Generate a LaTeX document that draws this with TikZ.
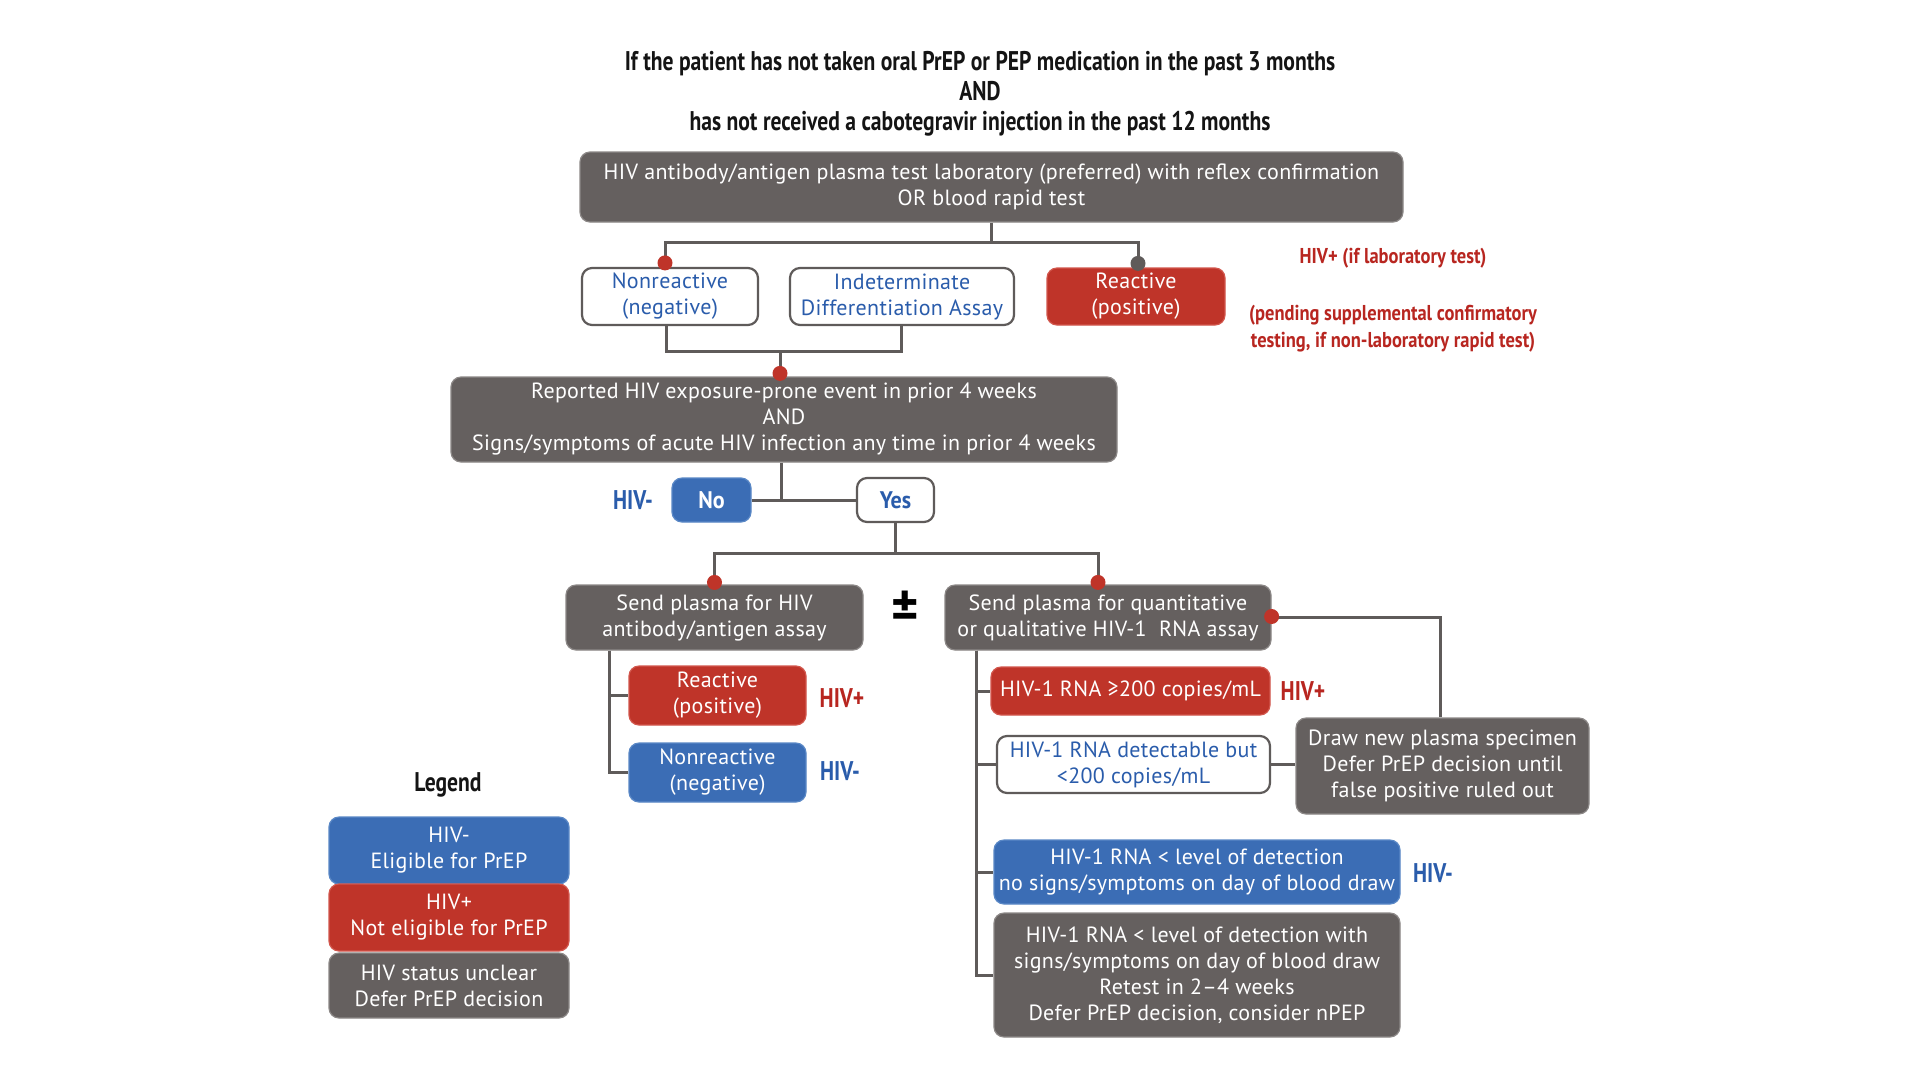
\documentclass[tikz,border=0pt]{standalone}
\usepackage{fontspec}
\setmainfont{PT Sans}[LetterSpace=1.5]
\newfontfamily\condf[FakeStretch=0.80]{PT Sans}
\newfontfamily\notefam[FakeStretch=0.86]{PT Sans}
\newfontfamily\ynfam[FakeStretch=0.92]{PT Sans}
\usetikzlibrary{calc}
\definecolor{cgray}{HTML}{65605F}
\definecolor{cgrayb}{HTML}{8C8887}
\definecolor{cred}{HTML}{BF3429}
\definecolor{credb}{HTML}{D2574D}
\definecolor{cblue}{HTML}{3B6DB5}
\definecolor{cblueb}{HTML}{5A88C6}
\definecolor{ctblue}{HTML}{2A5CAB}
\definecolor{ctred}{HTML}{B82620}
\definecolor{cline}{HTML}{5F5B5A}
\definecolor{ctitle}{HTML}{141414}
\newcommand\bxf{\fontsize{22}{26}\selectfont}
\newcommand\ttlf{\condf\bfseries\fontsize{27}{30}\selectfont}
\newcommand\notef{\notefam\bfseries\fontsize{21.5}{27.5}\selectfont}
\newcommand\lblf{\condf\bfseries\fontsize{27}{30}\selectfont}
\newcommand\ynf{\ynfam\bfseries\fontsize{24}{30}\selectfont}
\newcommand\legf{\condf\bfseries\fontsize{27}{30}\selectfont}
\newcommand\pmf{\bfseries\fontsize{52}{56}\selectfont}
\begin{document}
\begin{tikzpicture}[x=1pt,y=-1pt,
  box/.style={rounded corners=10pt, inner sep=0pt, align=center, font=\bxf, text=white},
  graybox/.style={box, fill=cgray, draw=cgrayb, line width=1.2pt},
  redbox/.style={box, fill=cred, draw=credb, line width=1.2pt},
  bluebox/.style={box, fill=cblue, draw=cblueb, line width=1.2pt},
  whitebox/.style={box, fill=white, draw=cline, line width=2.2pt, text=ctblue},
  conn/.style={draw=cline, line width=3pt},
  lbl/.style={font=\lblf, inner sep=0pt},
]
\fill[white] (0,0) rectangle (1920,1080);
\useasboundingbox (0,0) rectangle (1920,1080);

\node[font=\ttlf, text=ctitle, align=center, inner sep=0pt] (title) at (980,94)
  {If the patient has not taken oral PrEP or PEP medication in the past 3 months\\AND\\has not received a cabotegravir injection in the past 12 months};

\node[graybox, minimum width=823pt, minimum height=70pt] (top) at (991.5,187)
  {HIV antibody/antigen plasma test laboratory (preferred) with reflex confirmation\\OR blood rapid test};

\node[whitebox, minimum width=176pt, minimum height=57pt] (nonr) at (670,296.5) {Nonreactive\\(negative)};
\node[whitebox, minimum width=224pt, minimum height=57pt] (indet) at (902,296.5) {Indeterminate\\Differentiation Assay};
\node[redbox, minimum width=178pt, minimum height=57pt] (react) at (1136,296.5) {Reactive\\(positive)};

\node[font=\notef, text=ctred, inner sep=0pt] (note1) at (1393,258) {HIV+ (if laboratory test)};
\node[font=\notef, text=ctred, align=center, inner sep=0pt] (note2) at (1393,328.5)
  {(pending supplemental confirmatory\\testing, if non-laboratory rapid test)};

\node[graybox, minimum width=666pt, minimum height=85pt] (q1) at (784,419.5)
  {Reported HIV exposure-prone event in prior 4 weeks\\AND\\Signs/symptoms of acute HIV infection any time in prior 4 weeks};

\node[bluebox, font=\ynf, minimum width=79pt, minimum height=44pt] (no) at (711.5,500) {No};
\node[whitebox, font=\ynf, minimum width=77pt, minimum height=44pt] (yes) at (895.5,500) {Yes};
\node[lbl, text=ctblue] (neg0) at (633,500) {HIV-};

\node[graybox, minimum width=297pt, minimum height=65pt] (ab) at (714.5,617.5) {Send plasma for HIV\\antibody/antigen assay};
\node[font=\pmf, text=black, inner sep=0pt] (pm) at (905,609) {±};
\node[graybox, minimum width=326pt, minimum height=65pt] (rna) at (1108,617.5) {Send plasma for quantitative\\or qualitative HIV-1\ \ RNA assay};

\node[redbox, minimum width=177pt, minimum height=59pt] (r1) at (717.5,695.5) {Reactive\\(positive)};
\node[lbl, text=ctred] (pos1) at (842,698) {HIV+};
\node[bluebox, minimum width=177pt, minimum height=59pt] (n1) at (717.5,772.5) {Nonreactive\\(negative)};
\node[lbl, text=ctblue] (neg1) at (840,771) {HIV-};

\node[redbox, minimum width=279pt, minimum height=48pt] (hp) at (1130.5,691) {HIV-1 RNA ≥200 copies/mL};
\node[lbl, text=ctred] (pos2) at (1303,691) {HIV+};
\node[whitebox, minimum width=273pt, minimum height=57pt] (det) at (1133.5,764.5) {HIV-1 RNA detectable but\\<200 copies/mL};
\node[graybox, minimum width=293pt, minimum height=96pt] (drawb) at (1442.5,766)
  {Draw new plasma specimen\\Defer PrEP decision until\\false positive ruled out};
\node[bluebox, minimum width=406pt, minimum height=64pt] (ld) at (1197,872)
  {HIV-1 RNA < level of detection\\no signs/symptoms on day of blood draw};
\node[lbl, text=ctblue] (neg3) at (1433,873) {HIV-};
\node[graybox, minimum width=406pt, minimum height=124pt] (ls) at (1197,975)
  {HIV-1 RNA < level of detection with\\signs/symptoms on day of blood draw\\Retest in 2–4 weeks\\Defer PrEP decision, consider nPEP};

% legend
\node[font=\legf, text=ctitle, inner sep=0pt] (legt) at (448,785) {Legend};
\node[bluebox, minimum width=240pt, minimum height=67pt] (lg1) at (449,850.5) {HIV-\\Eligible for PrEP};
\node[redbox, minimum width=240pt, minimum height=67pt] (lg2) at (449,917.5) {HIV+\\Not eligible for PrEP};
\node[graybox, minimum width=240pt, minimum height=65pt] (lg3) at (449,985.5) {HIV status unclear\\Defer PrEP decision};

% connectors
\coordinate (j1) at (991,242);
\draw[conn] ([xshift=-0.5pt]top.south) -- (j1);
\draw[conn] ([xshift=-5pt]nonr.north) |- (j1) -| ([xshift=2pt]react.north);

\coordinate (j2) at (780,351);
\draw[conn] ([xshift=-4pt]nonr.south) |- (j2);
\draw[conn] ([xshift=-1pt]indet.south) |- (j2);
\coordinate (d2) at (j2 |- q1.north);
\draw[conn] (j2) -- (d2);

\coordinate (j3) at ([xshift=-3pt]q1.south);
\draw[conn] (no.east) -- (yes.west);
\draw[conn] (j3) -- (j3 |- no.east);

\coordinate (j4) at (896,553);
\coordinate (rnat) at ([xshift=-10pt]rna.north);
\draw[conn] (yes.south) -- (yes.south |- j4);
\draw[conn] (ab.north) |- (j4) -| (rnat);

\coordinate (lb) at ([xshift=-105.5pt]ab.south);
\draw[conn] (lb) |- (r1.west);
\draw[conn] (lb) |- (n1.west);

\coordinate (rb) at ([xshift=-132pt]rna.south);
\draw[conn] (rb) |- (ls.west);
\draw[conn] (rb) |- (hp.west);
\draw[conn] (rb) |- (det.west);
\draw[conn] (rb) |- (ld.west);

\draw[conn] (rna.east) -| ([xshift=-2pt]drawb.north);
\draw[conn] (det.east) -- (det.east -| drawb.west);

% dots
\fill[cred] ([yshift=4pt,xshift=-5pt]nonr.north) circle (7.5pt);
\fill[cline] ([yshift=4pt,xshift=2pt]react.north) circle (7.5pt);
\fill[cred] ([yshift=3pt]d2) circle (7.5pt);
\fill[cred] ([yshift=2pt]ab.north) circle (7.5pt);
\fill[cred] ([yshift=2pt]rnat) circle (7.5pt);
\fill[cred] ([yshift=1pt]rna.east) circle (7.5pt);
\end{tikzpicture}
\end{document}
